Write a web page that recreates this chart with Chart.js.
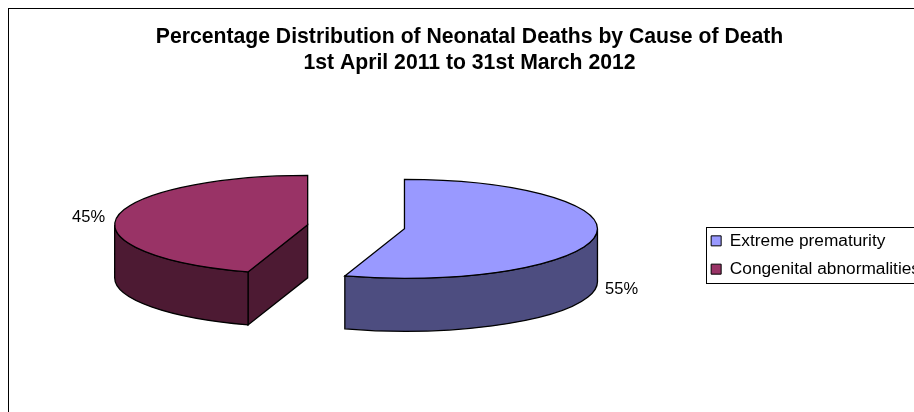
<!DOCTYPE html>
<html>
<head>
<meta charset="utf-8">
<title>Neonatal Deaths by Cause</title>
<script src="https://cdn.jsdelivr.net/npm/chart.js@4/dist/chart.umd.min.js"></script>
<style>
    html, body { margin: 0; padding: 0; background: #fff; width: 914px; height: 412px; overflow: hidden; }
    #frame { position: absolute; left: 8px; top: 8px; width: 920px; height: 492px; border: 1px solid #000; background: #fff; }
    #pieChart { display: block; }
</style>
</head>
<body>
<div id="frame"><canvas id="pieChart" width="920" height="492"></canvas></div>
<script>
const chartTitle = ['Percentage Distribution of Neonatal Deaths by Cause of Death', '1st April 2011 to 31st March 2012'];
const categories = ['Extreme prematurity', 'Congenital abnormalities'];
const percentages = [55, 45];

const topColors = ['#9999FF', '#993366'];
const sideColors = ['#4D4D80', '#4D1A33'];

const FONT = '"Liberation Sans", Arial, sans-serif';
const RADIUS = 193;
const SQUASH = 0.2565;   // ellipse height / width of the tilted disc
const DEPTH = 53;        // wall height
const EXPLODE = 49;      // how far each slice is pulled out of the centre
const SHIFT_X = 1.5;
const SHIFT_Y = -62;
const LINE = 1.3;

// Centre of a slice's top face after it has been pulled out and tilted
function sliceCentre(arc) {
    const mid = (arc.startAngle + arc.endAngle) / 2;
    return {
        x: arc.x + SHIFT_X + Math.cos(mid) * EXPLODE,
        y: arc.y + SHIFT_Y + Math.sin(mid) * EXPLODE * SQUASH
    };
}

function rimPoint(c, angle, radius) {
    return {
        x: c.x + Math.cos(angle) * radius,
        y: c.y + Math.sin(angle) * radius * SQUASH
    };
}

function paint(ctx, fill) {
    ctx.fillStyle = fill;
    ctx.fill();
    ctx.strokeStyle = '#000';
    ctx.lineWidth = LINE;
    ctx.stroke();
}

function drawWalls(ctx, arc, color) {
    const c = sliceCentre(arc);
    const ry = arc.outerRadius * SQUASH;

    // Straight cut faces, only those turned towards the viewer
    [[arc.startAngle, -1], [arc.endAngle, 1]].forEach(([angle, side]) => {
        if (Math.sin(angle + side * Math.PI / 2) > 1e-6) {
            const p = rimPoint(c, angle, arc.outerRadius);
            ctx.beginPath();
            ctx.moveTo(c.x, c.y);
            ctx.lineTo(p.x, p.y);
            ctx.lineTo(p.x, p.y + DEPTH);
            ctx.lineTo(c.x, c.y + DEPTH);
            ctx.closePath();
            paint(ctx, color);
        }
    });

    // Curved outer wall, front half of the ellipse only
    const from = Math.max(arc.startAngle, 0);
    const to = Math.min(arc.endAngle, Math.PI);
    if (to > from) {
        ctx.beginPath();
        ctx.ellipse(c.x, c.y, arc.outerRadius, ry, 0, from, to);
        ctx.ellipse(c.x, c.y + DEPTH, arc.outerRadius, ry, 0, to, from, true);
        ctx.closePath();
        paint(ctx, color);
    }
}

function drawTop(ctx, arc) {
    const c = sliceCentre(arc);

    // Let the arc element fill itself inside the tilted space
    ctx.save();
    ctx.translate(c.x, c.y);
    ctx.scale(1, SQUASH);
    ctx.translate(-arc.x, -arc.y);
    arc.draw(ctx);
    ctx.restore();

    // Outline in plain pixels so the line keeps its width all the way round
    ctx.beginPath();
    ctx.moveTo(c.x, c.y);
    ctx.ellipse(c.x, c.y, arc.outerRadius, arc.outerRadius * SQUASH, 0, arc.startAngle, arc.endAngle);
    ctx.closePath();
    ctx.strokeStyle = '#000';
    ctx.lineWidth = LINE;
    ctx.stroke();
}

function drawValueLabel(ctx, arc, value) {
    const c = sliceCentre(arc);
    const mid = (arc.startAngle + arc.endAngle) / 2;
    const p = rimPoint(c, mid, arc.outerRadius);
    const onRight = Math.cos(mid) > 0;

    ctx.fillStyle = '#000';
    ctx.font = '16.5px ' + FONT;
    ctx.textBaseline = 'middle';
    ctx.textAlign = onRight ? 'left' : 'right';
    ctx.fillText(value + '%', p.x + (onRight ? 10 : -12), p.y + (Math.sin(mid) > 0 ? DEPTH : 0));
}

const pie3d = {
    id: 'pie3d',
    beforeDatasetDraw(chart, args) {
        const ctx = chart.ctx;
        const arcs = args.meta.data;
        arcs.forEach((arc, i) => drawWalls(ctx, arc, sideColors[i]));
        arcs.forEach(arc => drawTop(ctx, arc));
        arcs.forEach((arc, i) => drawValueLabel(ctx, arc, percentages[i]));
        return false;
    },
    // Box around the legend entries
    afterDraw(chart) {
        const boxes = chart.legend.legendHitBoxes;
        const left = boxes[0].left - 5;
        const top = boxes[0].top - 5;
        const last = boxes[boxes.length - 1];
        const ctx = chart.ctx;
        ctx.strokeStyle = '#000';
        ctx.lineWidth = 1;
        ctx.strokeRect(Math.round(left) + 0.5, Math.round(top) + 0.5, chart.width, Math.round(last.top + last.height + 5 - top));
    }
};

function initChart() {
    const ctx = document.getElementById('pieChart').getContext('2d');
    new Chart(ctx, {
        type: 'pie',
        plugins: [pie3d],
        data: {
            labels: categories,
            datasets: [{
                data: percentages,
                backgroundColor: topColors,
                borderWidth: 0,
                radius: RADIUS,
                clip: false
            }]
        },
        options: {
            responsive: false,
            animation: false,
            layout: { padding: { right: -1 } },
            plugins: {
                tooltip: { enabled: false },
                title: {
                    display: true,
                    text: chartTitle,
                    color: '#000',
                    font: { family: FONT, size: 21.2, weight: 'bold', lineHeight: 1.23 },
                    padding: { top: 15.5, bottom: 0 }
                },
                legend: {
                    position: 'right',
                    labels: {
                        color: '#000',
                        font: { family: FONT, size: 17.3 },
                        boxWidth: 10,
                        boxHeight: 10,
                        padding: 11,
                        generateLabels(chart) {
                            return categories.map((name, i) => ({
                                text: name,
                                fillStyle: topColors[i],
                                strokeStyle: '#000',
                                lineWidth: 1,
                                index: i
                            }));
                        }
                    }
                }
            }
        }
    });
}

document.addEventListener('DOMContentLoaded', initChart);
</script>
</body>
</html>
